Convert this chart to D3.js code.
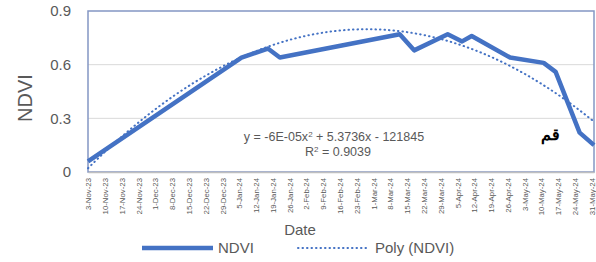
<!DOCTYPE html>
<html>
<head>
<meta charset="utf-8">
<script src="https://cdn.jsdelivr.net/npm/d3@7"></script>
<style>
  body { margin: 0; background: #fff; }
  text { font-family: "Liberation Sans", Arial, sans-serif; fill: #595959; }
</style>
</head>
<body>
<div id="chart"></div>
<script>
// data
var dates = ["3-Nov-23", "6-Jan-24", "17-Jan-24", "22-Jan-24", "12-Mar-24", "18-Mar-24",
  "1-Apr-24", "7-Apr-24", "11-Apr-24", "27-Apr-24", "11-May-24", "16-May-24", "26-May-24", "1-Jun-24"];
var ndvi = [0.06, 0.64, 0.69, 0.64, 0.77, 0.68, 0.77, 0.73, 0.76, 0.64, 0.61, 0.56, 0.22, 0.15];

var tickLabels = ["3-Nov-23", "10-Nov-23", "17-Nov-23", "24-Nov-23", "1-Dec-23", "8-Dec-23",
  "15-Dec-23", "22-Dec-23", "29-Dec-23", "5-Jan-24", "12-Jan-24", "19-Jan-24", "26-Jan-24",
  "2-Feb-24", "9-Feb-24", "16-Feb-24", "23-Feb-24", "1-Mar-24", "8-Mar-24", "15-Mar-24",
  "22-Mar-24", "29-Mar-24", "5-Apr-24", "12-Apr-24", "19-Apr-24", "26-Apr-24", "3-May-24",
  "10-May-24", "17-May-24", "24-May-24", "31-May-24"];
var yTicks = [0, 0.3, 0.6, 0.9];

var svgWidth = 596;
var svgHeight = 262;
var margin = { top: 11, right: 2, bottom: 90, left: 88 };
var width = svgWidth - margin.left - margin.right;
var height = svgHeight - margin.top - margin.bottom;

var parse = d3.timeParse("%d-%b-%y");
var data = dates.map(function(d, i) { return { date: parse(d), value: ndvi[i] }; });

var svg = d3.select("#chart").append("svg")
  .attr("width", svgWidth)
  .attr("height", svgHeight);

var chartGroup = svg.append("g")
  .attr("transform", `translate(${margin.left}, ${margin.top})`);

var xScale = d3.scaleTime()
  .domain(d3.extent(data, d => d.date))
  .range([0, width]);

var yScale = d3.scaleLinear()
  .domain([0, 0.9])
  .range([height, 0]);

// gridlines
chartGroup.selectAll(".grid")
  .data(yTicks.filter(d => d > 0 && d < 0.9))
  .enter().append("line")
  .attr("x1", 0).attr("x2", width)
  .attr("y1", d => yScale(d)).attr("y2", d => yScale(d))
  .attr("stroke", "#d9d9d9").attr("stroke-width", 1);

// plot area border
chartGroup.append("rect")
  .attr("x", 0).attr("y", 0)
  .attr("width", width).attr("height", height)
  .attr("fill", "none")
  .attr("stroke", "#8497c4").attr("stroke-width", 1.5);

// x axis
var xAxis = d3.axisBottom(xScale)
  .tickValues(tickLabels.map(parse))
  .tickFormat(d3.timeFormat("%-d-%b-%y"))
  .tickSize(0);

var xg = chartGroup.append("g")
  .attr("transform", `translate(0, ${height})`)
  .call(xAxis);
xg.select(".domain").attr("stroke", "#bfbfbf").attr("stroke-width", 1.5);
xg.selectAll("text")
  .attr("transform", "rotate(-90)")
  .attr("x", -6)
  .attr("y", 0)
  .attr("dy", "0.35em")
  .style("text-anchor", "end")
  .style("font-size", "7.8px")
  .style("fill", "#595959");

// y axis
var yAxis = d3.axisLeft(yScale)
  .tickValues(yTicks)
  .tickFormat(d => d === 0 ? "0" : d3.format(".1f")(d))
  .tickSize(0)
  .tickPadding(17);
var yg = chartGroup.append("g").call(yAxis);
yg.select(".domain").remove();
yg.selectAll("text").style("font-size", "15px").style("fill", "#595959");

// polynomial trendline (least squares, order 2)
var t0 = data[0].date;
var days = data.map(d => (d.date - t0) / 864e5);
function fitQuad(xs, ys) {
  var s = [0, 0, 0, 0, 0], r = [0, 0, 0];
  xs.forEach(function(x, i) {
    for (var k = 0; k < 5; k++) s[k] += Math.pow(x, k);
    for (var k = 0; k < 3; k++) r[k] += ys[i] * Math.pow(x, k);
  });
  var m = [[s[0], s[1], s[2], r[0]], [s[1], s[2], s[3], r[1]], [s[2], s[3], s[4], r[2]]];
  for (var i = 0; i < 3; i++) {
    for (var j = i + 1; j < 3; j++) {
      var f = m[j][i] / m[i][i];
      for (var k = i; k < 4; k++) m[j][k] -= f * m[i][k];
    }
  }
  var c = [0, 0, 0];
  for (var i = 2; i >= 0; i--) {
    var v = m[i][3];
    for (var k = i + 1; k < 3; k++) v -= m[i][k] * c[k];
    c[i] = v / m[i][i];
  }
  return c;
}
var coef = fitQuad(days, ndvi);
var span = days[days.length - 1];
var trend = d3.range(0, span + 0.5, 1).map(function(t) {
  return { date: new Date(+t0 + t * 864e5), value: coef[0] + coef[1] * t + coef[2] * t * t };
});

var line = d3.line()
  .x(d => xScale(d.date))
  .y(d => yScale(d.value));

chartGroup.append("path")
  .datum(data)
  .attr("d", line)
  .attr("fill", "none")
  .attr("stroke", "#4472c4")
  .attr("stroke-width", 4.5)
  .attr("stroke-linejoin", "round");

chartGroup.append("path")
  .datum(trend)
  .attr("d", line)
  .attr("fill", "none")
  .attr("stroke", "#4472c4")
  .attr("stroke-width", 2)
  .attr("stroke-linecap", "round")
  .attr("stroke-dasharray", "0.5,4");

// trendline label
var eq = chartGroup.append("text")
  .attr("x", 246).attr("y", 130)
  .attr("text-anchor", "middle")
  .style("font-size", "12.5px");
eq.append("tspan").text("y = -6E-05x");
eq.append("tspan").attr("baseline-shift", "super").style("font-size", "8px").text("2");
eq.append("tspan").text(" + 5.3736x - 121845");

var r2 = chartGroup.append("text")
  .attr("x", 250).attr("y", 145)
  .attr("text-anchor", "middle")
  .style("font-size", "12.5px");
r2.append("tspan").text("R");
r2.append("tspan").attr("baseline-shift", "super").style("font-size", "8px").text("2");
r2.append("tspan").text(" = 0.9039");

chartGroup.append("text")
  .attr("x", 462).attr("y", 129)
  .attr("text-anchor", "middle")
  .style("font-size", "16px")
  .style("font-weight", "bold")
  .style("fill", "#000")
  .text("قم");

// axis titles
svg.append("text")
  .attr("transform", "rotate(-90)")
  .attr("x", -98).attr("y", 32)
  .attr("text-anchor", "middle")
  .style("font-size", "20px")
  .text("NDVI");

svg.append("text")
  .attr("x", 300).attr("y", 235)
  .attr("text-anchor", "middle")
  .style("font-size", "15px")
  .text("Date");

// legend
var legend = svg.append("g");
legend.append("line")
  .attr("x1", 142).attr("x2", 213).attr("y1", 248).attr("y2", 248)
  .attr("stroke", "#4472c4").attr("stroke-width", 4.5);
legend.append("text")
  .attr("x", 218).attr("y", 253)
  .style("font-size", "15px").text("NDVI");
legend.append("line")
  .attr("x1", 298).attr("x2", 366).attr("y1", 248).attr("y2", 248)
  .attr("stroke", "#4472c4").attr("stroke-width", 2)
  .attr("stroke-linecap", "round").attr("stroke-dasharray", "0.5,4");
legend.append("text")
  .attr("x", 375).attr("y", 253)
  .style("font-size", "15px").text("Poly (NDVI)");
</script>
</body>
</html>
